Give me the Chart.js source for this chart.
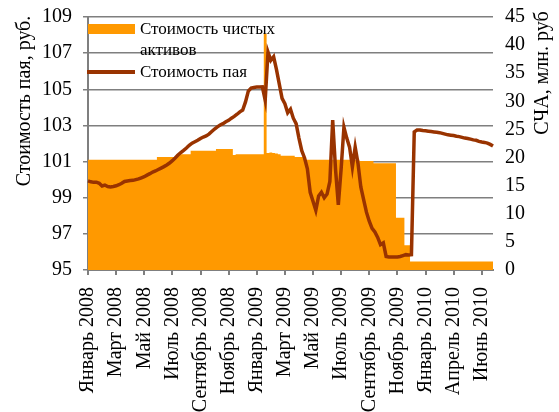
<!DOCTYPE html>
<html>
<head>
<meta charset="utf-8">
<script src="https://cdn.jsdelivr.net/npm/chart.js@4.4.1/dist/chart.umd.min.js"></script>
<style>
  html, body { margin: 0; padding: 0; background: #fff; }
  #wrap { width: 559px; height: 412px; }
</style>
</head>
<body>
<div id="wrap"><canvas id="fund_chart"></canvas></div>
<script>
// Tick labels (one every 10 points)
var tickMonths = ['Январь 2008', 'Март 2008', 'Май 2008', 'Июль 2008', 'Сентябрь 2008',
    'Ноябрь 2008', 'Январь 2009', 'Март 2009', 'Май 2009', 'Июль 2009', 'Сентябрь 2009',
    'Ноябрь 2009', 'Январь 2010', 'Апрель 2010', 'Июнь 2010'];

// Стоимость пая, руб. (left axis)
var unitPrice = [
    99.93, 99.88, 99.85, 99.86, 99.80, 99.65, 99.70, 99.62, 99.60, 99.62,
    99.66, 99.72, 99.80, 99.90, 99.93, 99.95, 99.96, 100.00, 100.04, 100.10,
    100.16, 100.25, 100.33, 100.42, 100.48, 100.56, 100.64, 100.72, 100.81, 100.92,
    101.05, 101.20, 101.36, 101.50, 101.62, 101.75, 101.90, 102.02, 102.10, 102.18,
    102.28, 102.36, 102.42, 102.52, 102.66, 102.80, 102.92, 103.02, 103.10, 103.20,
    103.28, 103.40, 103.50, 103.62, 103.75, 103.85, 104.30, 104.90, 105.07, 105.10,
    105.12, 105.12, 105.13, 104.40, 107.06, 106.60, 106.80, 106.10, 105.30, 104.50,
    104.20, 103.70, 103.90, 103.40, 103.10, 102.30, 101.60, 101.20, 100.60, 99.30,
    98.80, 98.30, 99.10, 99.30, 99.00, 99.20, 99.90, 103.30, 100.60, 98.60,
    100.60, 102.90, 102.30, 101.80, 100.70, 101.80, 100.90, 99.60, 98.90, 98.20,
    97.70, 97.30, 97.10, 96.80, 96.40, 96.50, 95.75, 95.72, 95.72, 95.72,
    95.72, 95.75, 95.80, 95.85, 95.83, 95.85, 102.64, 102.75, 102.75, 102.72,
    102.70, 102.68, 102.66, 102.64, 102.62, 102.60, 102.56, 102.52, 102.48, 102.46,
    102.44, 102.40, 102.38, 102.34, 102.30, 102.28, 102.24, 102.20, 102.18, 102.12,
    102.08, 102.06, 102.02, 101.95, 101.86
];

// Стоимость чистых активов, млн. руб. (right axis)
var netAssets = [
    19.6, 19.6, 19.6, 19.6, 19.6, 19.6, 19.6, 19.6, 19.6, 19.6,
    19.6, 19.6, 19.6, 19.6, 19.6, 19.6, 19.6, 19.6, 19.6, 19.6,
    19.6, 19.6, 19.6, 19.6, 19.6, 20.1, 20.1, 20.1, 20.1, 20.1,
    20.1, 20.1, 20.6, 20.6, 20.6, 20.6, 20.6, 21.2, 21.2, 21.2,
    21.2, 21.2, 21.2, 21.2, 21.2, 21.2, 21.5, 21.5, 21.5, 21.5,
    21.5, 21.5, 20.45, 20.6, 20.6, 20.6, 20.6, 20.6, 20.6, 20.6,
    20.6, 20.6, 20.6, 42.0, 20.8, 20.9, 20.8, 20.7, 20.6, 20.3,
    20.3, 20.3, 20.3, 20.3, 20.1, 20.1, 20.1, 20.1, 19.6, 19.6,
    19.6, 19.6, 19.6, 19.6, 19.6, 19.6, 19.6, 19.6, 19.6, 19.6,
    19.6, 19.6, 19.6, 19.6, 19.6, 19.6, 19.6, 19.4, 19.4, 19.4,
    19.4, 19.4, 19.0, 19.0, 19.0, 19.0, 19.0, 19.0, 19.0, 19.0,
    9.3, 9.3, 9.3, 4.4, 4.4, 1.5, 1.5, 1.5, 1.5, 1.5,
    1.5, 1.5, 1.5, 1.5, 1.5, 1.5, 1.5, 1.5, 1.5, 1.5,
    1.5, 1.5, 1.5, 1.5, 1.5, 1.5, 1.5, 1.5, 1.5, 1.5,
    1.5, 1.5, 1.5, 1.5, 1.5
];

var labels = unitPrice.map(function(v, i) {
    return i % 10 === 0 ? tickMonths[i / 10] : '';
});

var ORANGE = '#FF9900';
var BROWN = '#993300';
var GRID = '#7f7f7f';
var FONT = '"Liberation Serif", "DejaVu Serif", serif';

// Axis titles and the legend are drawn by hand
var decorPlugin = {
    id: 'decor',
    afterDraw: function(chart) {
        var ctx = chart.ctx;
        ctx.save();
        ctx.fillStyle = '#000';
        ctx.font = '20px ' + FONT;
        ctx.textAlign = 'center';
        ctx.textBaseline = 'middle';

        ctx.save();
        ctx.translate(25, 101);
        ctx.rotate(-Math.PI / 2);
        ctx.fillText('Стоимость пая, руб.', 0, 0);
        ctx.restore();

        ctx.save();
        ctx.translate(543, 73);
        ctx.rotate(-Math.PI / 2);
        ctx.fillText('СЧА, млн. руб', 0, 0);
        ctx.restore();

        // legend
        ctx.fillStyle = ORANGE;
        ctx.fillRect(88, 24, 47, 10);
        ctx.strokeStyle = BROWN;
        ctx.lineWidth = 4;
        ctx.beginPath();
        ctx.moveTo(87, 72);
        ctx.lineTo(135, 72);
        ctx.stroke();

        ctx.fillStyle = '#000';
        ctx.font = '17px ' + FONT;
        ctx.textAlign = 'left';
        ctx.textBaseline = 'alphabetic';
        ctx.fillText('Стоимость чистых', 140, 34);
        ctx.fillText('активов', 140, 55);
        ctx.fillText('Стоимость пая', 140, 77);
        ctx.restore();
    }
};

function fitVertical(width) {
    return function(axis) {
        axis.width = width;
        axis.paddingTop = 0;
        axis.paddingBottom = 0;
    };
}

new Chart(document.getElementById('fund_chart').getContext('2d'), {
    type: 'line',
    data: {
        labels: labels,
        datasets: [{
            label: 'Стоимость пая',
            data: unitPrice,
            yAxisID: 'y',
            borderColor: BROWN,
            borderWidth: 3.5,
            pointRadius: 0,
            tension: 0,
            fill: false,
            order: 1
        }, {
            label: 'Стоимость чистых активов',
            data: netAssets,
            yAxisID: 'y2',
            borderWidth: 0,
            backgroundColor: ORANGE,
            pointRadius: 0,
            stepped: 'middle',
            fill: 'origin',
            order: 2
        }]
    },
    options: {
        responsive: true,
        maintainAspectRatio: false,
        animation: false,
        layout: { padding: { top: 17 } },
        plugins: { legend: { display: false }, tooltip: { enabled: false } },
        scales: {
            x: {
                offset: false,
                grid: { drawOnChartArea: false, tickLength: 5, color: GRID, lineWidth: 2 },
                border: { color: GRID, width: 2 },
                ticks: {
                    autoSkip: false, maxRotation: 90, minRotation: 90, padding: 12,
                    color: '#000', font: { family: FONT, size: 20 }
                },
                afterBuildTicks: function(axis) {
                    axis.ticks = axis.ticks.filter(function(t) { return t.value % 10 === 0; });
                },
                afterFit: function(axis) { axis.height = 142; }
            },
            y: {
                position: 'left',
                min: 95,
                max: 109,
                ticks: { stepSize: 2, padding: 11, color: '#000', font: { family: FONT, size: 20 } },
                grid: { color: GRID, lineWidth: 1.5, tickLength: 5 },
                border: { color: GRID, width: 2 },
                afterFit: fitVertical(88)
            },
            y2: {
                position: 'right',
                min: 0,
                max: 45,
                ticks: { stepSize: 5, padding: 12, color: '#000', font: { family: FONT, size: 20 } },
                grid: { drawOnChartArea: false, drawTicks: false },
                border: { display: false },
                afterFit: fitVertical(66)
            }
        }
    },
    plugins: [decorPlugin]
});
</script>
</body>
</html>
